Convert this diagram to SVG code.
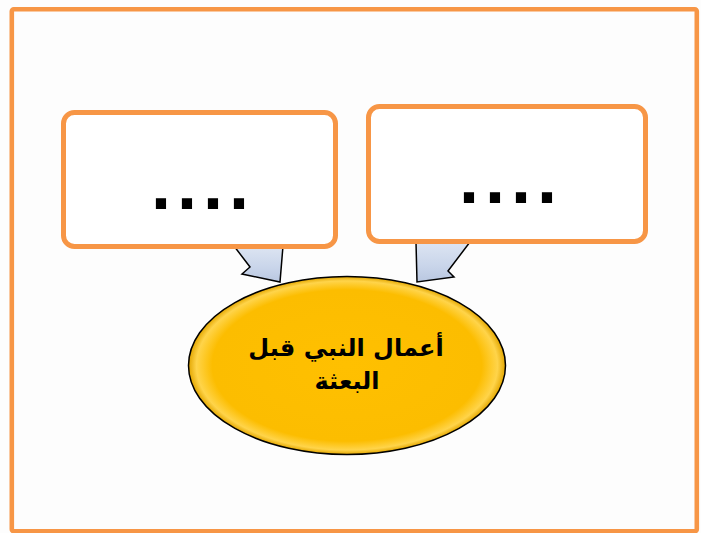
<svg xmlns="http://www.w3.org/2000/svg" width="701" height="533" viewBox="0 0 701 533">
<style>
.box{fill:#ffffff;stroke:#f79646;stroke-width:5}
.dots{font-family:"Liberation Sans",Arial,sans-serif;font-weight:bold;font-size:72px;fill:#000;text-anchor:middle;letter-spacing:6px}
.arrow{fill:url(#ag);stroke:#000;stroke-width:1.5;stroke-linejoin:miter}
.label{font-family:"DejaVu Sans","Noto Sans",sans-serif;font-weight:bold;font-size:24px;fill:#000;text-anchor:middle}
</style>
<defs>
<linearGradient id="ag" x1="0" y1="0" x2="0" y2="1">
<stop offset="0" stop-color="#dde5f2"/>
<stop offset="0.6" stop-color="#c9d5ea"/>
<stop offset="1" stop-color="#b9c7e0"/>
</linearGradient>
<radialGradient id="eg" cx="0.5" cy="0.5" r="0.5">
<stop offset="0" stop-color="#ffc000"/>
<stop offset="0.85" stop-color="#fcbd00"/>
<stop offset="0.95" stop-color="#ffd44a"/>
<stop offset="1" stop-color="#e3a600"/>
</radialGradient>
</defs>
<rect x="0" y="0" width="701" height="533" fill="#fdfdfd"/>
<rect id="frame" x="11.8" y="9.2" width="685" height="522" rx="2" fill="none" stroke="#f79646" stroke-width="4.6"/>
<g id="connectors">
<polygon class="arrow" points="234,246 283,246 280,282 242,274 250,267"/>
<polygon class="arrow" points="416,242 470,242 448,271 454,277 417,282"/>
</g>
<g id="box-left">
<rect class="box" x="63.5" y="112.5" width="272" height="134" rx="11"/>
<text class="dots" x="203" y="209">....</text>
</g>
<g id="box-right">
<rect class="box" x="368.5" y="106.5" width="277" height="135" rx="11"/>
<text class="dots" x="511" y="203">....</text>
</g>
<g id="center">
<ellipse cx="347" cy="365.5" rx="158.5" ry="89" fill="url(#eg)" stroke="#000" stroke-width="1.5"/>
<text class="label" x="346" y="356">أعمال النبي قبل</text>
<text class="label" x="347" y="389">البعثة</text>
</g>
</svg>
